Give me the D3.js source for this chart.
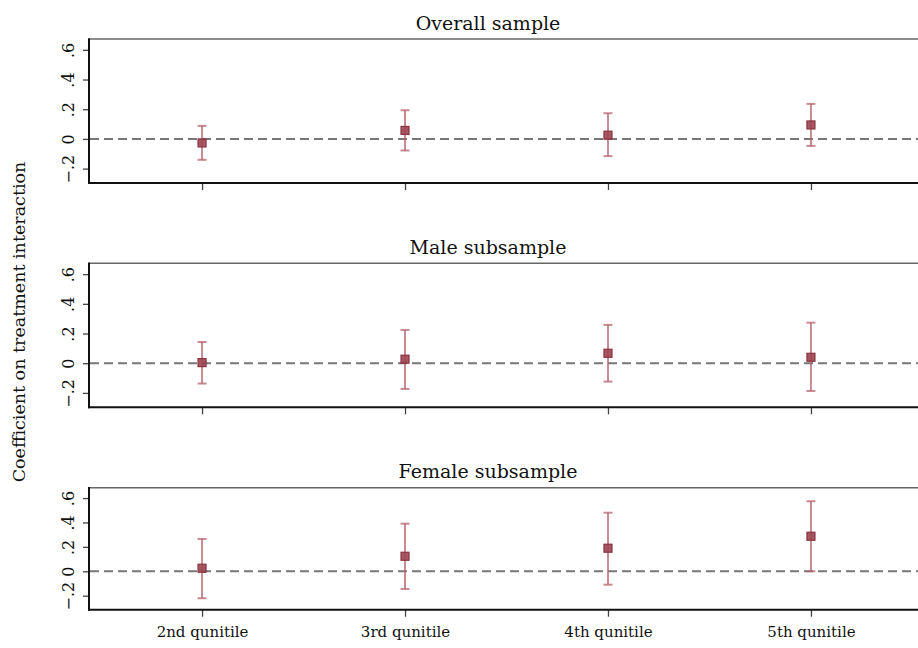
<!DOCTYPE html>
<html>
<head>
<meta charset="utf-8">
<script src="https://cdn.jsdelivr.net/npm/d3@7"></script>
<style>
  body { margin: 0; background: #fff; }
  text { font-family: "DejaVu Serif", serif; fill: #111; }
</style>
</head>
<body>
<svg id="canvas"></svg>
<script>
let width = 918, height = 648

const quintiles = ["2nd qunitile", "3rd qunitile", "4th qunitile", "5th qunitile"]
const panelTitles = ["Overall sample", "Male subsample", "Female subsample"]
const coef  = [[-0.027, 0.057, 0.025, 0.094], [0.004, 0.027, 0.067, 0.040], [0.025, 0.123, 0.189, 0.287]]
const upper = [[0.088, 0.193, 0.173, 0.236], [0.143, 0.224, 0.258, 0.273], [0.265, 0.390, 0.480, 0.574]]
const lower = [[-0.141, -0.078, -0.116, -0.047], [-0.137, -0.173, -0.124, -0.187], [-0.221, -0.145, -0.110, 0.0]]
const yTicks = [-0.2, 0, 0.2, 0.4, 0.6]

// panel frames (top, bottom, y-domain)
const frames = [
  {top: 39, bottom: 183, dom: [-0.297, 0.673]},
  {top: 263.3, bottom: 407.3, dom: [-0.297, 0.673]},
  {top: 487.7, bottom: 609.7, dom: [-0.315, 0.685]}
]

let svg = d3.select('#canvas').attr("width", width).attr("height", height)

let x = d3.scalePoint().domain(quintiles).range([89, 924]).padding(0.557)

let fmt = d => d === 0 ? "0" : d3.format(".1f")(d).replace("0.", ".")

panelTitles.forEach((title, p) => {
  let f = frames[p]
  let y = d3.scaleLinear().domain(f.dom).range([f.bottom, f.top])
  let g = svg.append("g")

  // title
  g.append("text").attr("x", 488).attr("y", f.top - 9.5)
    .attr("text-anchor", "middle").style("font-size", "19px").text(title)

  // top border
  g.append("line").attr("x1", 89).attr("x2", width).attr("y1", f.top).attr("y2", f.top)
    .attr("stroke", "#666").attr("stroke-width", 1.6)

  // y axis
  let ya = g.append("g").attr("transform", "translate(89,0)")
    .call(d3.axisLeft(y).tickValues(yTicks).tickSize(6).tickFormat(fmt))
  ya.select(".domain").remove()
  ya.selectAll(".tick line").attr("stroke", "#444").attr("stroke-width", 1.3)
  ya.selectAll(".tick text")
    .attr("transform", "rotate(-90)").attr("x", 0).attr("dy", null)
    .attr("y", -15).attr("text-anchor", "middle")
    .style("font-size", "16px")
  g.append("line").attr("x1", 89).attr("x2", 89).attr("y1", f.top - 0.8).attr("y2", f.bottom + 1)
    .attr("stroke", "#111").attr("stroke-width", 2)

  // x axis
  let xa = g.append("g").attr("transform", `translate(0,${f.bottom})`)
    .call(d3.axisBottom(x).tickSize(7).tickSizeOuter(0))
  xa.select(".domain").remove()
  xa.selectAll(".tick line").attr("stroke", "#444").attr("stroke-width", 1.3)
  if (p < 2) xa.selectAll(".tick text").remove()
  else xa.selectAll(".tick text").attr("y", 17).style("font-size", "15px")
  g.append("line").attr("x1", 88).attr("x2", width).attr("y1", f.bottom).attr("y2", f.bottom)
    .attr("stroke", "#111").attr("stroke-width", 2)

  // zero reference line
  g.append("line").attr("x1", 90).attr("x2", width).attr("y1", y(0)).attr("y2", y(0))
    .attr("stroke", "#777").attr("stroke-width", 2).attr("stroke-dasharray", "9,5")

  let rows = quintiles.map((q, i) => ({q: q, b: coef[p][i], hi: upper[p][i], lo: lower[p][i]}))

  // error bars
  let bars = g.selectAll(".ci").data(rows).enter().append("g")
    .attr("stroke", "#b5646f").attr("stroke-opacity", 0.75).attr("stroke-width", 2)
  bars.append("line").attr("x1", d => x(d.q)).attr("x2", d => x(d.q))
    .attr("y1", d => y(d.hi)).attr("y2", d => y(d.lo))
  bars.append("line").attr("x1", d => x(d.q) - 4.5).attr("x2", d => x(d.q) + 4.5)
    .attr("y1", d => y(d.hi)).attr("y2", d => y(d.hi))
  bars.append("line").attr("x1", d => x(d.q) - 4.5).attr("x2", d => x(d.q) + 4.5)
    .attr("y1", d => y(d.lo)).attr("y2", d => y(d.lo))

  // point estimates
  g.selectAll(".pt").data(rows).enter().append("rect")
    .attr("x", d => x(d.q) - 4).attr("y", d => y(d.b) - 4)
    .attr("width", 8).attr("height", 8)
    .attr("fill", "#9c4552").attr("fill-opacity", 0.9)
    .attr("stroke", "#8a3341").attr("stroke-width", 1.2)
})

// y-axis title
svg.append("text").attr("transform", "translate(25,322) rotate(-90)")
  .attr("text-anchor", "middle").style("font-size", "17.5px")
  .text("Coefficient on treatment interaction")
</script>
</body>
</html>
